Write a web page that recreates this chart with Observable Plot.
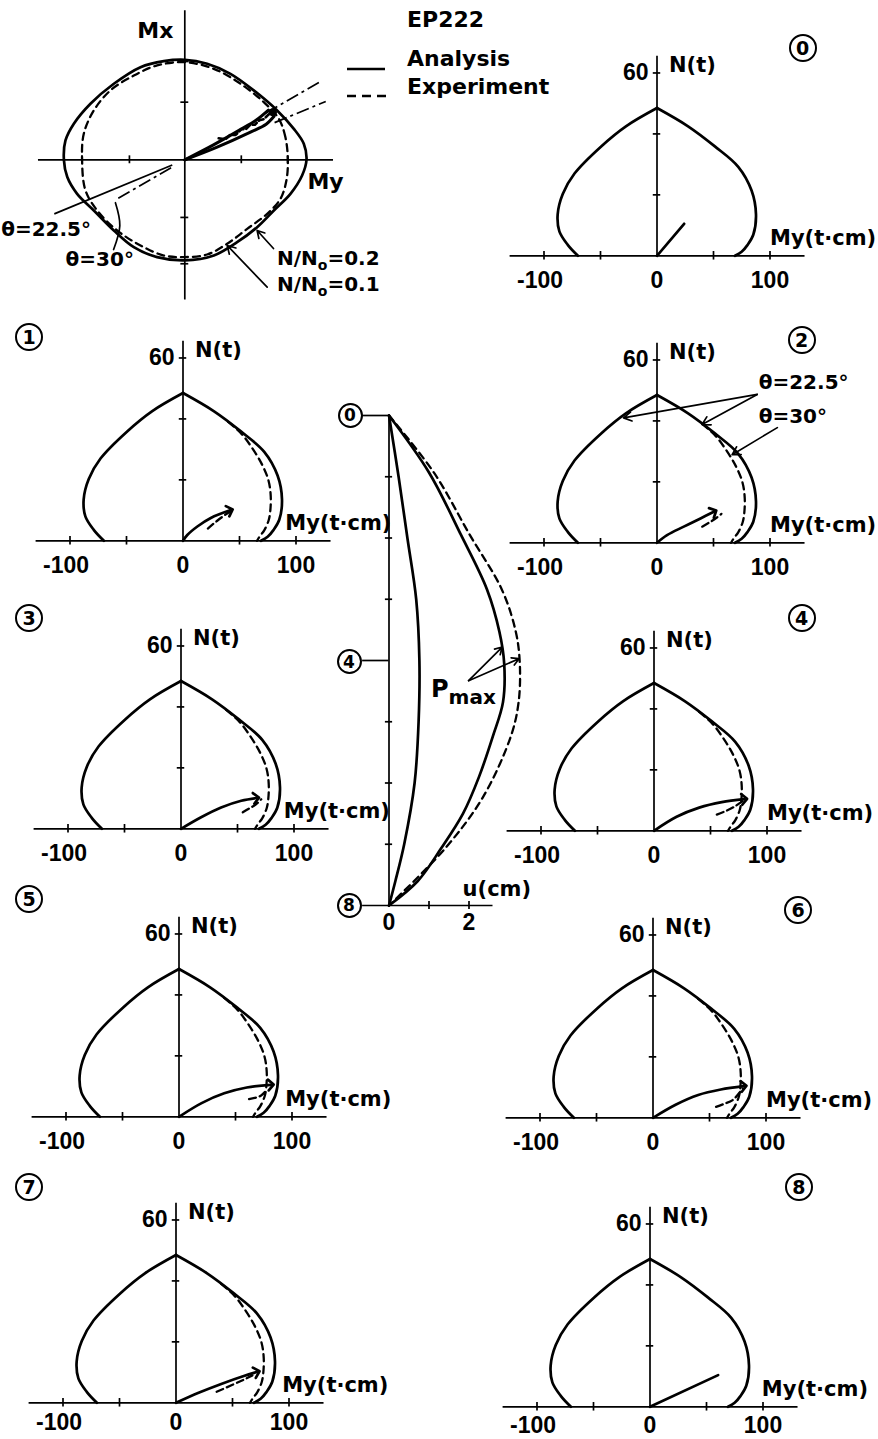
<!DOCTYPE html>
<html><head><meta charset="utf-8">
<script src="https://cdn.jsdelivr.net/npm/d3@7"></script>
<script src="https://cdn.jsdelivr.net/npm/@observablehq/plot@0.6"></script>
<style>
html,body{margin:0;padding:0;background:#fff;overflow:hidden;}
#page{position:relative;width:878px;height:1439px;overflow:hidden;background:#fff;color:#000;font-family:"DejaVu Sans",sans-serif;font-weight:bold;}
.abs{position:absolute;white-space:nowrap;line-height:1;}
.circ{position:absolute;box-sizing:border-box;border:2.5px solid #000;border-radius:50%;display:flex;align-items:center;justify-content:center;font-family:"DejaVu Sans",sans-serif;font-weight:bold;background:#fff;}
sub{line-height:0;}
</style></head>
<body><div id="page"></div>
<script>
// ================= DATA =================
// Top-left: Mx–My interaction curves (t·cm)
const topAnalysisMy = [107.7,105.3,96.5,81.7,61,40.4,19.8,0,-18.6,-39.2,-62.8,-83.5,-98.2,-105.6,-107,-104,-95.3,-80.5,-62.8,-45.1,-24.5,0,25.7,46.3,64,78.8,93.5,103.8];
const topAnalysisMx = [0,14.2,27.4,43.7,61.4,76.1,85,88.5,87.3,82,67.3,49.6,31.9,17.1,0,-15.3,-30.1,-44.8,-62.5,-77.3,-86.1,-89,-84.7,-72.9,-59.6,-44.8,-30.1,-13.9];
const topExperimentMy = [91.2,89,83.2,69.9,49.3,25.7,0,-24.5,-45.1,-65.8,-80.5,-89.4,-90.9,-87.9,-77.6,-59.9,-39.2,-18.6,0,19.8,37.5,55.2,72.9,84.7,89.9];
const topExperimentMx = [0,20.1,36.3,51,67.3,80.5,86.4,83.5,74.6,61.4,43.7,23,0,-27.1,-44.8,-62.5,-75.8,-84.7,-86.1,-83.8,-74.3,-61.1,-47.8,-34.5,-18.3];
const topPath22My = [0,28.6,58.1,72,79];
const topPath22Mx = [0,11.2,24.5,31.5,38.5];
const topPath30My = [0,25,48,63,74];
const topPath30Mx = [0,13,26,35,44];
const topExpPathMy = [30,36,40,45,50,54,58,62,66,70,74,77];
const topExpPathMx = [19,18,22,22,27,27,31,31,35,36,40,42];
const topMyTicks = [-91,-49,50,91];
const topMxTicks = [-92,-51,51,87];
const thetaDeg = [22.5, 30];
const thetaOuterR1 = [86, 83], thetaOuterR2 = [135, 139];

// N–My interaction curve (analysis), left bottom -> peak -> right bottom
const capMy = [-70,-79,-86.4,-87.9,-83.4,-73,-49.4,-27.5,0,27.5,51.2,71.9,83.7,87.6,85.2,80,74.9,69];
const capN  = [0,3.6,8,13.6,20.3,27,35.9,42.5,48.5,42.5,35.9,29.2,21.4,13.6,6.9,3.5,1.3,0];
const peakIndex = 8;
// Experimental interaction curve (right side)
const expCapMy = [40,52,62,70,75.5,77.5,77.5,76,72,68,65.5];
const expCapN  = [39,35,30,25,20,15.5,11,7,3.5,1.5,0];
const hasExpCap = [false,true,true,true,true,true,true,true,false];
// Load paths, stages 0..8
const loadMy = [[0,24],[0,3.8,12.7,24.6,41.7],[0,8.9,23.7,38.5,50.3],[0,17.8,35.5,53.3,66.6],[0,20,40,60,80],[0,20,40,60,81.4],[0,20,40,60,80.4],[0,20,40,60,71.6],[0,60.3]];
const loadN  = [[0,10.5],[0,1.9,4.7,7.5,10],[0,2.5,5.3,8,10.2],[0,3.8,7,9.2,10.1],[0,4.6,7.6,9.4,10.4],[0,4.5,7.7,9.6,10.5],[0,4.3,7.5,9.3,10.4],[0,3.3,6.2,8.8,10.1],[0,10.4]];
const expLoadMy = [[],[22,30,38,42],[40,47,53,57],[54.7,60,66.6,71],[55.6,63,70.2,79],[62,67,72.4,78.4],[55.8,63,70.5,79.4],[36,50,60,67.6],[]];
const expLoadN  = [[],[4,6.5,8.7,9.6],[5.3,6.8,8.3,9.5],[5.4,6.6,8.1,9.7],[5.3,6.4,7.7,9.9],[5.8,6.2,6.9,9.1],[3.6,4.6,5.8,9.6],[3.6,5.9,7.6,9.0],[]];
const myMinorTicks = [-100,-50,50,100];
const myTickLabels = [-100,0,100];
const nTicks = [20,40,60];
const nTickLabels = [60];

// Deflection u (cm) vs loading stage
const stepInner = [0,1,2,3,4,5,6,7,7.6,8];
const uInner    = [0,0.24,0.46,0.68,0.76,0.74,0.64,0.38,0.16,0];
const stepOuter = [0,0.93,1.95,2.84,3.53,4.05,4.68,5.23,5.9,6.5,7.07,7.6,8];
const uOuter    = [0,1.0,1.8,2.45,2.76,2.88,2.85,2.6,2.25,1.85,1.3,0.72,0];
const stepExp   = [0,0.93,1.95,2.84,3.53,4.05,4.68,5.23,6.23,7.07,8];
const uExp      = [0,1.12,2.02,2.82,3.17,3.27,3.24,3.05,2.35,1.4,0];
const stageTicks = [1,2,3,5,6,7];
const stageLabels = [0,4,8];
const uTicks = [1,2];
const uTickLabels = [0,2];

// ================= LAYOUT =================
const page = document.getElementById("page");
const NUMF = "Liberation Sans, Arial, sans-serif";
const WORDF = "DejaVu Sans, sans-serif";
const STYLE = {overflow: "visible", background: "transparent"};
const SW = 2.7; // curve stroke

function put(el, left, top) {
  el.style.position = "absolute";
  el.style.left = left + "px";
  el.style.top = top + "px";
  page.appendChild(el);
}
function html(str, left, top, css) {
  const d = document.createElement("div");
  d.className = "abs";
  d.innerHTML = str;
  if (css) d.style.cssText += css;
  put(d, left, top);
}
function circ(num, cx, cy, dia, fs) {
  const d = document.createElement("div");
  d.className = "circ";
  d.style.width = dia + "px"; d.style.height = dia + "px";
  d.style.fontSize = fs + "px";
  d.textContent = String(num);
  put(d, cx - dia / 2, cy - dia / 2);
}
const pts = (xs, ys, kx, ky) => xs.map((v, j) => ({[kx]: v, [ky]: ys[j]}));
const word = (o) => Object.assign({fontFamily: WORDF, fontWeight: "bold", fontSize: 21}, o);
const num = (o) => Object.assign({fontFamily: NUMF, fontWeight: "bold", fontSize: 23}, o);

// ---------- Top-left Mx–My diagram ----------
{
  const k = 1.13, ox = 184.3, oy = 159.3, W = 400, H = 310;
  const analysis = pts(topAnalysisMy, topAnalysisMx, "My", "Mx");
  const experiment = pts(topExperimentMy, topExperimentMx, "My", "Mx");
  const rad = thetaDeg.map(t => t * Math.PI / 180);
  const outer = rad.map((r, j) => ({x1: thetaOuterR1[j] * Math.cos(r), y1: thetaOuterR1[j] * Math.sin(r), x2: thetaOuterR2[j] * Math.cos(r), y2: thetaOuterR2[j] * Math.sin(r)}));
  const lower22 = [{x1: -12 * Math.cos(rad[0]), y1: -12 * Math.sin(rad[0]), x2: -125 * Math.cos(rad[0]), y2: -125 * Math.sin(rad[0])}];
  const lower30 = [{x1: -14 * Math.cos(rad[1]), y1: -14 * Math.sin(rad[1]), x2: -71 * Math.cos(rad[1]), y2: -71 * Math.sin(rad[1])}];
  const svg = Plot.plot({
    width: W, height: H, margin: 0, style: STYLE,
    x: {domain: [-ox / k, (W - ox) / k], axis: null},
    y: {domain: [-(H - oy) / k, oy / k], axis: null},
    marks: [
      Plot.ruleY([0], {x1: -129.5, x2: 131.6, strokeWidth: 1.7}),
      Plot.ruleX([0], {y1: -124, y2: 132, strokeWidth: 1.7}),
      Plot.ruleX(topMyTicks, {y1: -3.5, y2: 3.5, strokeWidth: 1.7}),
      Plot.ruleY(topMxTicks, {x1: -3.5, x2: 3.5, strokeWidth: 1.7}),
      Plot.line(analysis, {x: "My", y: "Mx", curve: "catmull-rom-closed", strokeWidth: SW}),
      Plot.line(experiment, {x: "My", y: "Mx", curve: "catmull-rom-closed", strokeWidth: 2.3, strokeDasharray: "7,5"}),
      Plot.link(outer, {x1: "x1", y1: "y1", x2: "x2", y2: "y2", strokeWidth: 1.7, strokeDasharray: "13,4,3,4"}),
      Plot.link(lower22, {x1: "x1", y1: "y1", x2: "x2", y2: "y2", strokeWidth: 1.7}),
      Plot.link(lower30, {x1: "x1", y1: "y1", x2: "x2", y2: "y2", strokeWidth: 1.7, strokeDasharray: "13,4,3,4"}),
      Plot.line(pts(topPath22My, topPath22Mx, "My", "Mx"), {x: "My", y: "Mx", curve: "catmull-rom", strokeWidth: 3}),
      Plot.line(pts(topPath30My, topPath30Mx, "My", "Mx"), {x: "My", y: "Mx", curve: "catmull-rom", strokeWidth: 3}),
      Plot.line(pts(topExpPathMy, topExpPathMx, "My", "Mx"), {x: "My", y: "Mx", strokeWidth: 2.6, strokeDasharray: "5,3"}),
      Plot.dot([{My: 78, Mx: 42}], {x: "My", y: "Mx", r: 4, fill: "black", stroke: null}),
      Plot.line([{x: -63, y: -79.4}, {x: -57.5, y: -58.3}, {x: -61.4, y: -38}], {x: "x", y: "y", curve: "natural", strokeWidth: 1.7}),
      Plot.arrow([{x1: 78.5, y1: -78.5, x2: 64, y2: -62.6}, {x1: 72.9, y1: -112.7, x2: 37.5, y2: -75.8}], {x1: "x1", y1: "y1", x2: "x2", y2: "y2", headLength: 8, strokeWidth: 1.7}),
      Plot.text(["Mx"], word({x: -26, y: 114.4, text: d => d, fontSize: 22, lineAnchor: "middle"})),
      Plot.text(["My"], word({x: 124.5, y: -19.6, text: d => d, fontSize: 22, lineAnchor: "middle"})),
      Plot.text(["θ=22.5°"], word({x: -162.5, y: -67, text: d => d, fontSize: 20, textAnchor: "start", lineAnchor: "bottom"})),
      Plot.text(["θ=30°"], word({x: -105.5, y: -94.4, text: d => d, fontSize: 20, textAnchor: "start", lineAnchor: "bottom"}))
    ]
  });
  put(svg, 0, 0);
  html("N/N<sub style='font-size:14px'>o</sub>=0.2", 277, 248, "font-size:20px;");
  html("N/N<sub style='font-size:14px'>o</sub>=0.1", 277, 274, "font-size:20px;");
}

// ---------- Legend ----------
html("EP222", 407, 8.5, "font-size:22px;");
html("Analysis", 407, 47.5, "font-size:22px;");
html("Experiment", 407, 76, "font-size:22px;");
html('<svg width="42" height="6"><line x1="1" y1="3" x2="39" y2="3" stroke="black" stroke-width="2.7"/></svg>', 346, 58.7);
html('<svg width="42" height="6"><line x1="1" y1="3" x2="40" y2="3" stroke="black" stroke-width="2.7" stroke-dasharray="9,6"/></svg>', 346, 86.3);

// ---------- N–My panels ----------
const PX = 1.13, PY = 3.047, PW = 440, PH = 262, LEFTU = 150, TOPU = 70;
const panelOrigin = [[656.7,255.7],[182.3,540.7],[656.7,542.7],[180,828.3],[653.3,830],[178.3,1116],[652,1117.7],[175.7,1402.7],[649,1406.7]];
const labelMyX = [100, 90.5, 100, 91, 100, 94, 100, 94, 99];
const tickLabelY = [-5.2, -5.2, -5.2, -5.2, -5.2, -5.2, -5.2, -3.6, -3.3];
const circlePos = [[802.5,47.5],[29,336.7],[801.7,340],[29,618.3],[801.7,617.5],[29,899],[798,910],[29,1186.7],[798.8,1186.7]];

const cap = pts(capMy, capN, "My", "N");
const capLeft = cap.slice(0, peakIndex + 1), capRight = cap.slice(peakIndex);
const expCap = pts(expCapMy, expCapN, "My", "N");

for (let i = 0; i < 9; i++) {
  const load = pts(loadMy[i], loadN[i], "My", "N");
  const expLoad = pts(expLoadMy[i], expLoadN[i], "My", "N");
  const marks = [
    Plot.ruleY([0], {x1: -130, x2: 131, strokeWidth: 1.7}),
    Plot.ruleX([0], {y1: 0, y2: 65.5, strokeWidth: 1.7}),
    Plot.ruleX(myMinorTicks, {y1: -1.4, y2: 1.4, strokeWidth: 1.7}),
    Plot.ruleY(nTicks, {x1: -3.3, x2: 3.3, strokeWidth: 1.7}),
    Plot.line(capLeft, {x: "My", y: "N", curve: "catmull-rom", strokeWidth: SW}),
    Plot.line(capRight, {x: "My", y: "N", curve: "catmull-rom", strokeWidth: SW}),
    Plot.line(load, {x: "My", y: "N", curve: "catmull-rom", strokeWidth: SW, markerEnd: (i > 0 && i < 8) ? "arrow" : "none"}),
    Plot.text(myTickLabels.filter(v => v < 0), num({x: d => d, y: tickLabelY[i], text: d => "-" + Math.abs(d), dx: -4, lineAnchor: "top"})),
    Plot.text(myTickLabels.filter(v => v >= 0), num({x: d => d, y: tickLabelY[i], text: d => String(d), lineAnchor: "top"})),
    Plot.text(nTickLabels, num({x: -7.5, y: d => d, text: d => String(d), textAnchor: "end", lineAnchor: "middle"})),
    Plot.text(["N(t)"], word({x: 10.6, y: 62.6, text: d => d, textAnchor: "start", lineAnchor: "middle"})),
    Plot.text(["My(t·cm)"], word({x: labelMyX[i], y: 3.6, text: d => d, textAnchor: "start", lineAnchor: "bottom"}))
  ];
  if (hasExpCap[i]) marks.push(Plot.line(expCap, {x: "My", y: "N", curve: "catmull-rom", strokeWidth: 2.3, strokeDasharray: "7,5"}));
  if (expLoad.length) marks.push(Plot.line(expLoad, {x: "My", y: "N", curve: "catmull-rom", strokeWidth: 2.3, strokeDasharray: "7,4"}));
  if (i === 2) {
    marks.push(
      Plot.arrow([{x1: 88.7, y1: 48.7, x2: -29.6, y2: 41}, {x1: 88.7, y1: 48.7, x2: 39.9, y2: 38.8}, {x1: 106.5, y1: 37.8, x2: 66.5, y2: 28.9}], {x1: "x1", y1: "y1", x2: "x2", y2: "y2", headLength: 8, strokeWidth: 1.7}),
      Plot.text(["θ=22.5°"], word({x: 90, y: 52.7, text: d => d, fontSize: 20, textAnchor: "start", lineAnchor: "middle"})),
      Plot.text(["θ=30°"], word({x: 90, y: 41.5, text: d => d, fontSize: 20, textAnchor: "start", lineAnchor: "middle"}))
    );
  }
  const svg = Plot.plot({
    width: PW, height: PH, margin: 0, style: STYLE,
    x: {domain: [-LEFTU, -LEFTU + PW / PX], axis: null},
    y: {domain: [TOPU - PH / PY, TOPU], axis: null},
    marks
  });
  const [ox, oy] = panelOrigin[i];
  put(svg, ox - LEFTU * PX, oy - TOPU * PY);
  circ(i, circlePos[i][0], circlePos[i][1], 28, 19);
}

// ---------- Middle: deflection u vs stage ----------
{
  const ux = 388.5, uk = 40, sy = 415, sk = 61.25, L = 330, T = 395, W = 210, H = 550;
  const svg = Plot.plot({
    width: W, height: H, margin: 0, style: STYLE,
    x: {domain: [(L - ux) / uk, (L + W - ux) / uk], axis: null},
    y: {domain: [(T - sy) / sk, (T + H - sy) / sk], reverse: true, axis: null},
    marks: [
      Plot.ruleX([0], {y1: 0, y2: 8, strokeWidth: 1.7}),
      Plot.ruleY(stageLabels.filter(s => s < 8), {x1: -0.66, x2: 0, strokeWidth: 1.7}),
      Plot.ruleY(stageLabels.filter(s => s === 8), {x1: -0.66, x2: 2.6, strokeWidth: 1.7}),
      Plot.ruleY(stageTicks, {x1: -0.09, x2: 0.09, strokeWidth: 1.7}),
      Plot.ruleX(uTicks, {y1: 7.935, y2: 8.065, strokeWidth: 1.7}),
      Plot.text(uTickLabels, num({x: d => d, y: 8, dy: 8, text: d => String(d), lineAnchor: "top"})),
      Plot.line(pts(uInner, stepInner, "u", "s"), {x: "u", y: "s", curve: "catmull-rom", strokeWidth: SW}),
      Plot.line(pts(uOuter, stepOuter, "u", "s"), {x: "u", y: "s", curve: "catmull-rom", strokeWidth: SW}),
      Plot.line(pts(uExp, stepExp, "u", "s"), {x: "u", y: "s", curve: "catmull-rom", strokeWidth: 2.3, strokeDasharray: "7,5"}),
      Plot.arrow([{x1: 1.99, y1: 4.33, x2: 2.83, y2: 3.78}, {x1: 1.99, y1: 4.33, x2: 3.25, y2: 3.97}], {x1: "x1", y1: "y1", x2: "x2", y2: "y2", headLength: 7, strokeWidth: 1.7}),
      Plot.text(["u(cm)"], word({x: 1.84, y: 7.74, text: d => d, textAnchor: "start", lineAnchor: "middle"}))
    ]
  });
  put(svg, L, T);
  circ(0, 350, 415, 25, 17);
  circ(4, 349, 661.7, 25, 17);
  circ(8, 349, 905, 25, 17);
  html("P<sub style='font-size:20px;vertical-align:-7px;'>max</sub>", 431, 677, "font-size:24px;");
}
</script>
</body></html>
